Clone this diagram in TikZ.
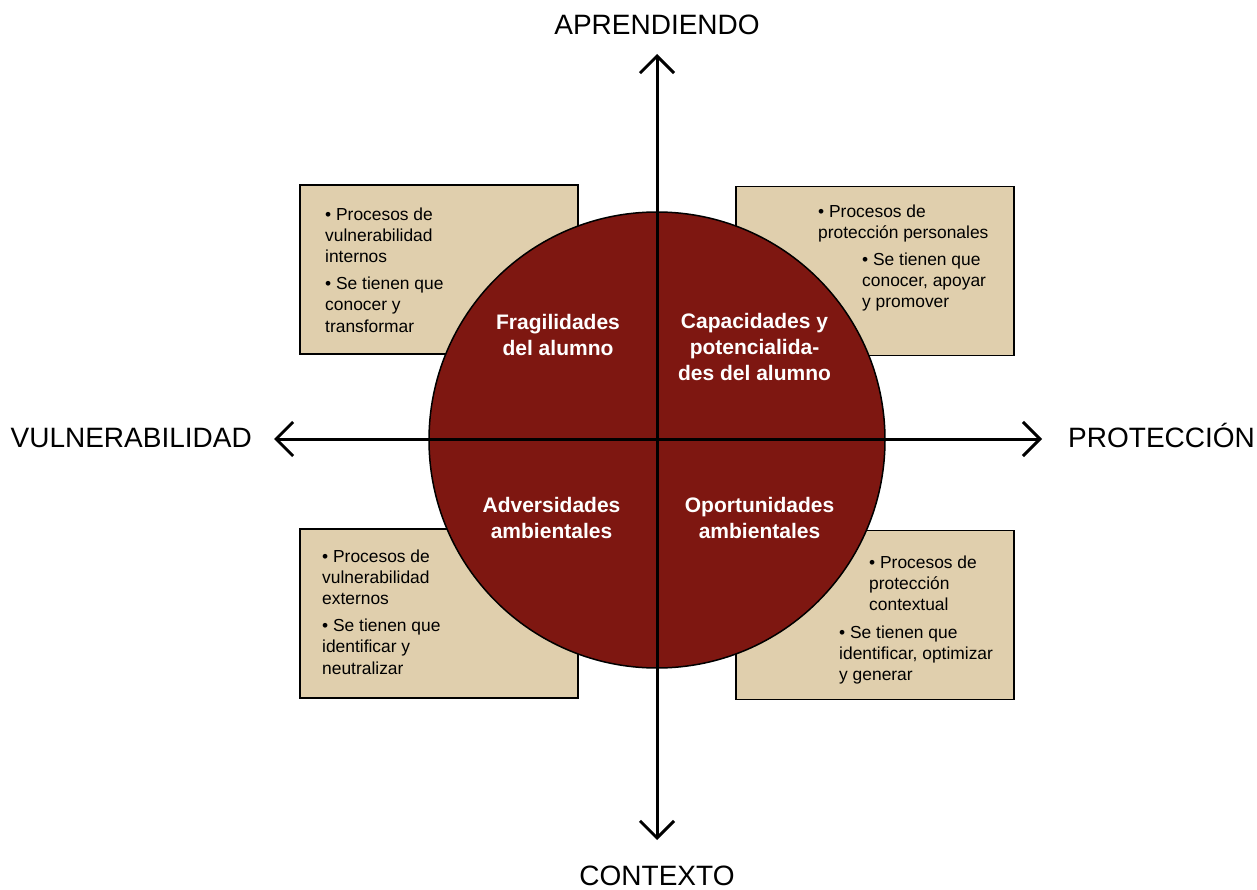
\documentclass[tikz,border=0pt]{standalone}
\usepackage{fontspec}
\setmainfont{Liberation Sans}
\usetikzlibrary{arrows.meta}
\definecolor{boxfill}{HTML}{E0CFAD}
\definecolor{circfill}{HTML}{7E1711}
\begin{document}
\begin{tikzpicture}[x=1pt,y=-1pt,
 infobox/.style={draw=black, line width=1.6pt, fill=boxfill, minimum width=278pt, minimum height=169pt, inner sep=0pt},
 boxtext/.style={anchor=north west, inner sep=0pt, align=left, font=\fontsize{17.4}{21.3}\selectfont},
 circtext/.style={anchor=north, inner sep=0pt, align=center, text=white, font=\fontsize{21}{26}\selectfont\bfseries},
 axislabel/.style={inner sep=0pt, font=\fontsize{28}{32}\selectfont},
 axisline/.style={line width=3pt, {Straight Barb[length=17pt,width=34pt]}-{Straight Barb[length=17pt,width=34pt]}}]
\useasboundingbox (0,0) rectangle (1257,890);
% boxes
\node[infobox] (b1) at (439,269.5) {};
\node[infobox] (b2) at (875,271) {};
\node[infobox] (b3) at (439,613.5) {};
\node[infobox] (b4) at (875,615) {};
% box texts
\node[boxtext] (t1) at (325,207.4) {• Procesos de\\vulnerabilidad\\internos\\[5.5pt]• Se tienen que\\conocer y\\transformar};
\node[boxtext] (t2a) at (818,204.4) {• Procesos de\\protección personales};
\node[boxtext] (t2b) at (862,252.4) {• Se tienen que\\conocer, apoyar\\y promover};
\node[boxtext] (t3) at (322,549.4) {• Procesos de\\vulnerabilidad\\externos\\[5.5pt]• Se tienen que\\identificar y\\neutralizar};
\node[boxtext] (t4a) at (869,555.4) {• Procesos de\\protección\\contextual};
\node[boxtext] (t4b) at (839,625.4) {• Se tienen que\\identificar, optimizar\\y generar};
% circle
\node[circle, draw=black, line width=1.5pt, fill=circfill, minimum size=456pt, inner sep=0pt] (c) at (657,440) {};
\node[circtext] (q1) at (558,314.2) {Fragilidades\\del alumno};
\node[circtext] (q2) at (754.5,312.7) {Capacidades y\\potencialida-\\des del alumno};
\node[circtext] (q3) at (551.5,496.7) {Adversidades\\ambientales};
\node[circtext] (q4) at (759.5,496.7) {Oportunidades\\ambientales};
% axes
\coordinate (top) at (657,54);
\coordinate (bot) at (657,840);
\coordinate (lft) at (274,439);
\coordinate (rgt) at (1042,439);
\draw[axisline] (bot) -- (top);
\draw[axisline] (lft) -- (rgt);
% axis labels
\node[axislabel, anchor=base] (la) at (657,35) {APRENDIENDO};
\node[axislabel, anchor=base] (lc) at (657,885.5) {CONTEXTO};
\node[axislabel, anchor=base east] (lv) at (252,447) {VULNERABILIDAD};
\node[axislabel, anchor=base west] (lp) at (1068,447) {PROTECCIÓN};
\end{tikzpicture}
\end{document}
